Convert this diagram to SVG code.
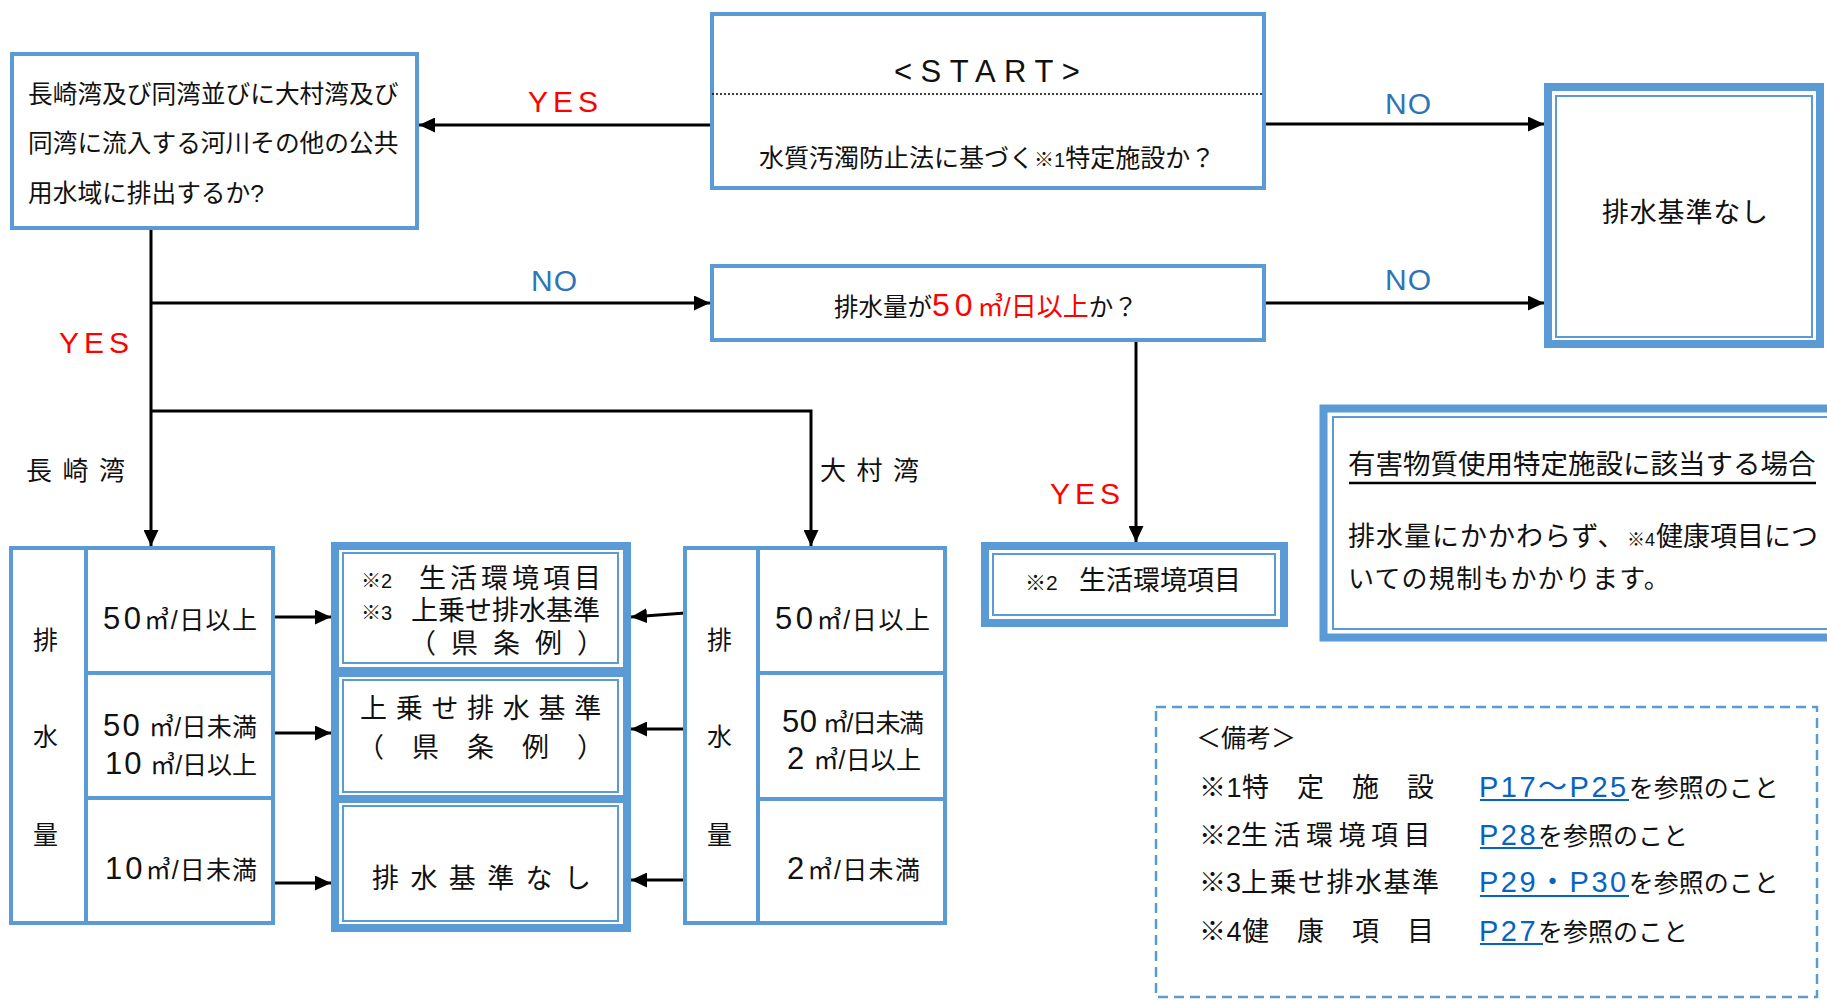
<svg xmlns="http://www.w3.org/2000/svg" width="1827" height="1000" viewBox="0 0 1827 1000" font-size="25">
<defs>
<style>
text{font-family:'Liberation Sans','Noto Sans CJK JP',sans-serif;fill:#111}
.bx{fill:#fff;stroke:#5B9BD5;stroke-width:4}
.thk{fill:#fff;stroke:#5B9BD5;stroke-width:8}
.thn{fill:none;stroke:#5B9BD5;stroke-width:2}
.ln{fill:none;stroke:#000;stroke-width:3}
.arr{marker-end:url(#ah)}
.yes{fill:#FF0000;font-size:30px;letter-spacing:5px}
.no{fill:#2E75B6;font-size:30px;letter-spacing:1px}
.d{font-size:31px;letter-spacing:2px}
.sm{font-size:20px}
.mid{font-size:27px}
.link{fill:#0563C1;font-size:29px;letter-spacing:2.5px}
.ul{stroke:#0563C1;stroke-width:2}
</style>
<marker id="ah" markerUnits="userSpaceOnUse" markerWidth="16" markerHeight="15" refX="16" refY="7.5" orient="auto">
<path d="M0,0 L16,7.5 L0,15 Z" fill="#000"/>
</marker>
</defs>
<rect width="1827" height="1000" fill="#fff"/>

<g id="connectors">
<path class="ln arr" d="M710,125 H419"/>
<path class="ln arr" d="M1266,124 H1544"/>
<path class="ln arr" d="M151,230 V546"/>
<path class="ln arr" d="M151,303 H710"/>
<path class="ln arr" d="M1266,303 H1544"/>
<path class="ln arr" d="M151,411 H811 V546"/>
<path class="ln arr" d="M1136,342 V542"/>
<path class="ln arr" d="M275,617 H331"/>
<path class="ln arr" d="M275,733 H331"/>
<path class="ln arr" d="M275,883 H331"/>
<path class="ln arr" d="M685,613 L631,617"/>
<path class="ln arr" d="M685,729 H631"/>
<path class="ln arr" d="M685,880 H631"/>
<text class="yes" x="528" y="112">YES</text>
<text class="no" x="1385" y="114">NO</text>
<text class="no" x="531" y="291">NO</text>
<text class="no" x="1385" y="290">NO</text>
<text class="yes" x="59" y="353">YES</text>
<text class="yes" x="1050" y="504">YES</text>
<text x="26" y="480" font-size="26" letter-spacing="10.5">長崎湾</text>
<text x="820" y="480" font-size="26" letter-spacing="10.5">大村湾</text>
</g>

<g id="q-area">
<rect class="bx" x="12" y="54" width="405" height="174"/>
<text x="28" y="103" font-size="24.7">長崎湾及び同湾並びに大村湾及び</text>
<text x="28" y="152" font-size="24.7">同湾に流入する河川その他の公共</text>
<text x="28" y="202" font-size="24.7">用水域に排出するか?</text>
</g>

<g id="start">
<rect class="bx" x="712" y="14" width="552" height="174"/>
<line x1="712" y1="94" x2="1264" y2="94" stroke="#000" stroke-width="1.5" stroke-dasharray="2 2"/>
<text x="894" y="82" font-size="31" letter-spacing="8.5">&lt;START&gt;</text>
<text x="759" y="167">水質汚濁防止法に基づく<tspan class="sm">※1</tspan>特定施設か？</text>
</g>

<g id="none-top">
<rect class="thk" x="1548" y="87" width="272" height="257"/>
<rect class="thn" x="1556" y="96" width="256" height="241"/>
<text x="1602" y="222" font-size="27" letter-spacing="0.8">排水基準なし</text>
</g>

<g id="volume-q">
<rect class="bx" x="712" y="266" width="552" height="74"/>
<text x="834" y="316" font-size="24.5">排水量が<tspan fill="#FF0000"><tspan font-size="32" letter-spacing="5">50</tspan><tspan font-size="26">㎥/日以上</tspan></tspan>か？</text>
</g>

<g id="seikatsu">
<rect class="thk" x="985" y="546" width="299" height="77"/>
<rect class="thn" x="993" y="554" width="282" height="61"/>
<text x="1025" y="590"><tspan font-size="21">※2</tspan><tspan x="1079" font-size="27">生活環境項目</tspan></text>
</g>

<g id="hazard">
<rect class="thk" x="1323.5" y="408.5" width="520" height="229" stroke-width="9"/>
<rect class="thn" x="1333" y="417" width="520" height="212"/>
<text x="1348" y="474" font-size="27.5">有害物質使用特定施設に該当する場合</text>
<line x1="1349" y1="483" x2="1816" y2="483" stroke="#000" stroke-width="2.5"/>
<text x="1348" y="546" font-size="27"><tspan letter-spacing="1">排水量にかかわらず、</tspan><tspan x="1627" font-size="18">※4</tspan><tspan x="1656">健康項目につ</tspan></text>
<text x="1348" y="588" font-size="26" letter-spacing="1.2">いての規制もかかります。</text>
</g>

<g id="table-nagasaki">
<rect class="bx" x="11" y="548" width="262" height="375"/>
<line class="bx" x1="86" y1="548" x2="86" y2="923"/>
<line class="bx" x1="86" y1="673" x2="273" y2="673"/>
<line class="bx" x1="86" y1="798" x2="273" y2="798"/>
<text x="33" y="649">排</text>
<text x="33" y="746">水</text>
<text x="33" y="844">量</text>
<text x="103" y="629" textLength="154" lengthAdjust="spacing"><tspan class="d">50</tspan>㎥/日以上</text>
<text x="103" y="736" textLength="154" lengthAdjust="spacing"><tspan class="d">50</tspan> ㎥/日未満</text>
<text x="105" y="774" textLength="152" lengthAdjust="spacing"><tspan class="d">10</tspan> ㎥/日以上</text>
<text x="105" y="879" textLength="152" lengthAdjust="spacing"><tspan class="d">10</tspan>㎥/日未満</text>
</g>

<g id="standards">
<rect class="thk" x="335" y="546" width="292" height="382"/>
<line x1="331" y1="672" x2="631" y2="672" stroke="#5B9BD5" stroke-width="10"/>
<line x1="331" y1="799" x2="631" y2="799" stroke="#5B9BD5" stroke-width="8"/>
<rect class="thn" x="343" y="553" width="275" height="110"/>
<rect class="thn" x="343" y="680" width="275" height="112"/>
<rect class="thn" x="343" y="806" width="275" height="115"/>
<text x="361" y="588"><tspan class="sm">※2</tspan><tspan x="419" class="mid" letter-spacing="4">生活環境項目</tspan></text>
<text x="361" y="620"><tspan class="sm">※3</tspan><tspan x="411" class="mid">上乗せ排水基準</tspan></text>
<text x="409" y="653" class="mid" letter-spacing="15">（県条例）</text>
<text x="360" y="718" class="mid" letter-spacing="8.7">上乗せ排水基準</text>
<text x="357" y="757" class="mid" letter-spacing="28">（県条例）</text>
<text x="372" y="888" class="mid" letter-spacing="11.4">排水基準なし</text>
</g>

<g id="table-omura">
<rect class="bx" x="685" y="548" width="260" height="375"/>
<line class="bx" x1="758" y1="548" x2="758" y2="923"/>
<line class="bx" x1="758" y1="673" x2="945" y2="673"/>
<line class="bx" x1="758" y1="799" x2="945" y2="799"/>
<text x="707" y="649">排</text>
<text x="707" y="746">水</text>
<text x="707" y="844">量</text>
<text x="775" y="629" textLength="155" lengthAdjust="spacing"><tspan class="d">50</tspan>㎥/日以上</text>
<text x="782" y="732" textLength="142" lengthAdjust="spacing"><tspan class="d">50</tspan> ㎥/日未満</text>
<text x="787" y="769" textLength="134" lengthAdjust="spacing"><tspan class="d">2</tspan> ㎥/日以上</text>
<text x="787" y="879" textLength="133" lengthAdjust="spacing"><tspan class="d">2</tspan>㎥/日未満</text>
</g>

<g id="notes">
<rect x="1156" y="707" width="661" height="290" fill="none" stroke="#5B9BD5" stroke-width="2.5" stroke-dasharray="10 6"/>
<text x="1196" y="747">＜備考＞</text>
<text x="1199" y="797" font-size="27" letter-spacing="0.5">※1特　定　施　設</text>
<text x="1199" y="845" font-size="27">※2<tspan letter-spacing="5.5">生活環境項目</tspan></text>
<text x="1199" y="892" font-size="27">※3<tspan letter-spacing="1.5">上乗せ排水基準</tspan></text>
<text x="1199" y="941" font-size="27" letter-spacing="0.5">※4健　康　項　目</text>
<text x="1479" y="797"><tspan class="link">P17～P25</tspan>を参照のこと</text>
<text x="1479" y="845"><tspan class="link">P28</tspan>を参照のこと</text>
<text x="1479" y="892"><tspan class="link">P29・P30</tspan>を参照のこと</text>
<text x="1479" y="941"><tspan class="link">P27</tspan>を参照のこと</text>
<line class="ul" x1="1480" y1="800" x2="1629" y2="800"/>
<line class="ul" x1="1480" y1="848" x2="1543" y2="848"/>
<line class="ul" x1="1480" y1="896" x2="1629" y2="896"/>
<line class="ul" x1="1480" y1="944" x2="1543" y2="944"/>
</g>
</svg>
